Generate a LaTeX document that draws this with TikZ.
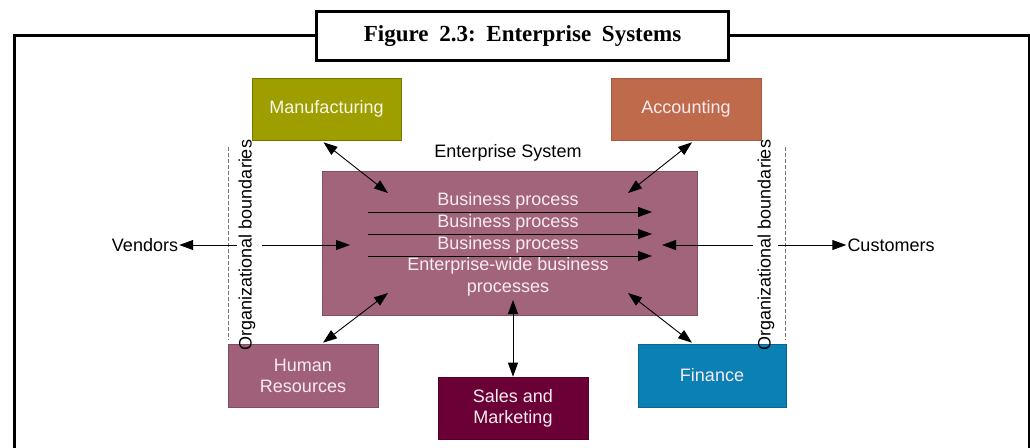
\documentclass[tikz,border=0pt]{standalone}
\usepackage{fontspec}
\setmainfont{Liberation Sans}
\newfontfamily\headserif{Liberation Serif}
\usetikzlibrary{arrows.meta,positioning,calc}
\definecolor{manucol}{RGB}{158,158,0}
\definecolor{acctcol}{RGB}{192,106,76}
\definecolor{entcol}{RGB}{162,100,122}
\definecolor{hrcol}{RGB}{160,96,122}
\definecolor{salescol}{RGB}{106,0,53}
\definecolor{fincol}{RGB}{10,128,181}
\definecolor{boxtext}{RGB}{248,236,240}

\begin{document}
\begin{tikzpicture}[x=1pt,y=-1pt,
    every node/.style={font=\fontsize{18}{21}\selectfont, inner sep=1pt},
    unit/.style={rectangle, minimum width=149pt, minimum height=62pt, text=boxtext, align=center, line width=0.6pt},
    link/.style={{Triangle[length=14pt,width=10pt]}-{Triangle[length=14pt,width=10pt]}, line width=0.9pt},
    flow/.style={-{Triangle[length=14pt,width=10pt]}, line width=0.9pt},
    boundary/.style={dashed, dash pattern=on 4pt off 2pt, black!55, line width=1pt},
    frame/.style={line width=3pt}]
\useasboundingbox (0,0) rectangle (1030,447);

\draw[frame] (14,450) |- (1029,35) -- (1029,450);
\node[draw, frame, fill=white, minimum width=412pt, minimum height=49pt,
      font=\headserif\bfseries\fontsize{23}{26}\selectfont] (title) at (522.5,36) {Figure\ \kern5pt 2.3:\ \kern5pt Enterprise\ \kern5pt Systems};

\node[unit, fill=manucol, draw=manucol!75!black, text=manucol!8!white] (manu) at (326.5,109) {Manufacturing};
\node[unit, fill=acctcol, draw=acctcol!85!black, minimum width=150pt] (acct) at (686,109) {Accounting};
\node[rectangle, fill=entcol, draw=entcol!80!black, minimum width=375pt, minimum height=144pt, line width=0.6pt] (ent) at (509.5,243) {};
\node (enttitle) at (508,153) {Enterprise System};
\node[unit, fill=hrcol, draw=hrcol!80!black, minimum width=150pt, minimum height=63pt] (hr) at (303,375.5) {Human\\Resources};
\node[unit, fill=salescol, draw=salescol!80!black, minimum width=150pt] (sales) at (513,408) {Sales and\\Marketing};
\node[unit, fill=fincol, draw=fincol!80!black, minimum width=148pt, minimum height=63pt] (fin) at (712,375.5) {Finance};

\node[text=boxtext] (bpa) at (508,201) {Business process};
\node[text=boxtext] (bpb) at (508,223) {Business process};
\node[text=boxtext] (bpc) at (508,245) {Business process};
\node[text=boxtext, align=center, font=\fontsize{18}{21.5}\selectfont] (ewb) at (508,277) {Enterprise-wide business\\processes};

\foreach \n/\y in {1/212,2/234,3/256}{
  \coordinate (fw\n) at (368,\y);
  \coordinate (fe\n) at (652,\y);
  \draw[flow] (fw\n) -- (fe\n);
}

\node (vendors) at (145,245) {Vendors};
\node (customers) at (891,245) {Customers};
\node[rotate=90] (orgl) at (247,245) {Organizational boundaries};
\node[rotate=90] (orgr) at (766,245) {Organizational boundaries};

\coordinate (dl1) at (228,147);
\coordinate (dl2) at (228,340);
\coordinate (dr1) at (785,147);
\coordinate (dr2) at (785,340);
\draw[boundary] (dl1) -- (dl2);
\draw[boundary] (dr1) -- (dr2);

\coordinate (vout) at (237,245);
\coordinate (vin0) at (262,245);
\coordinate (vin1) at (350,245);
\coordinate (cin0) at (753,245);
\coordinate (cin1) at (662,245);
\coordinate (cout) at (778,245);
\draw[flow] (vout) -- (vendors.east);
\draw[flow] (vin0) -- (vin1);
\draw[flow] (cin0) -- (cin1);
\draw[flow] (cout) -- (customers.west);

\coordinate (mnw) at (388,193);
\coordinate (mne) at (628,193);
\coordinate (msw) at (388,293);
\coordinate (mse) at (628,293);
\coordinate (ms) at (513,300);
\draw[link] ($(manu.south)+(-3,2)$) -- (mnw);
\draw[link] ($(acct.south)+(6,2)$) -- (mne);
\draw[link] ($(hr.north)+(20,-1)$) -- (msw);
\draw[link] ($(fin.north)+(-20,-1)$) -- (mse);
\draw[link] (sales.north) -- (ms);
\end{tikzpicture}
\end{document}
